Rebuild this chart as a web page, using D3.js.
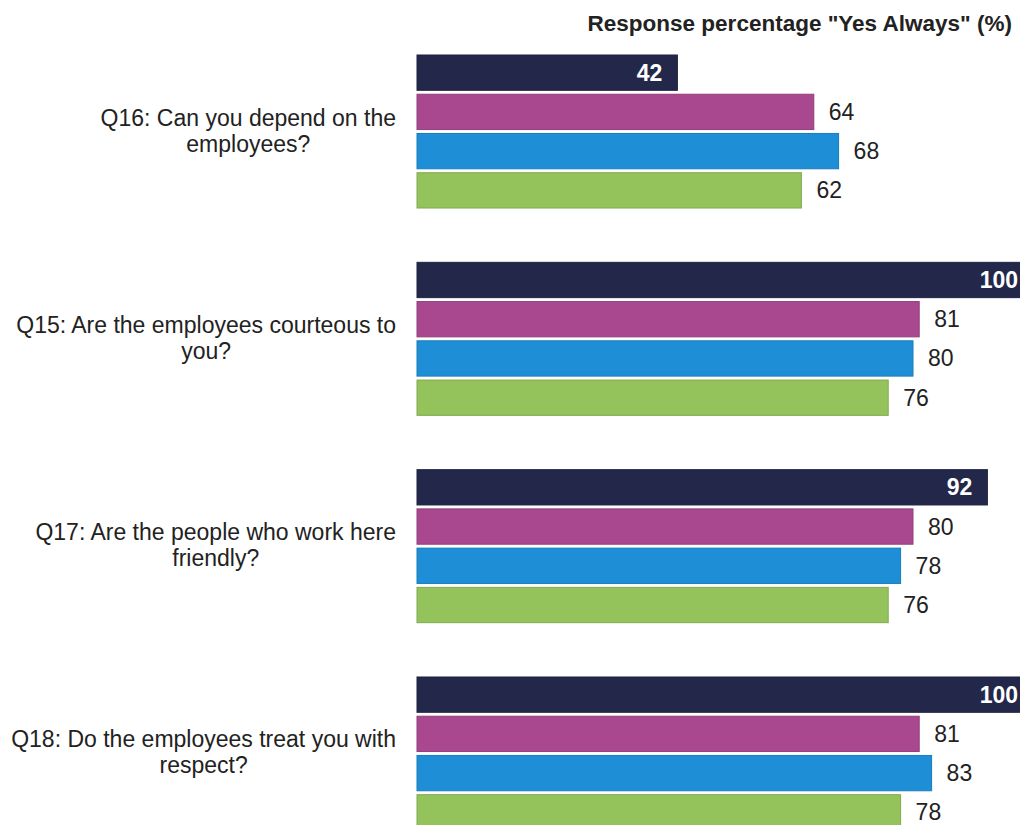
<!DOCTYPE html>
<html>
<head>
<meta charset="utf-8">
<script src="https://cdn.jsdelivr.net/npm/d3@7"></script>
<style>
  html, body { margin: 0; padding: 0; background: #fff; overflow: hidden; }
  svg { display: block; }
  svg text { font-family: Arial, "Liberation Sans", Helvetica, sans-serif; }
</style>
</head>
<body>
<svg id="chart" width="1020" height="825"></svg>
<script>
// Survey questions (top to bottom) and their wrapped label lines
const questions = ["Q16", "Q15", "Q17", "Q18"];
const questionLines = [
  ["Q16: Can you depend on the", "employees?"],
  ["Q15: Are the employees courteous to", "you?"],
  ["Q17: Are the people who work here", "friendly?"],
  ["Q18: Do the employees treat you with", "respect?"]
];
// Four comparison series, one bar each per question
const seriesNames = ["s1", "s2", "s3", "s4"];
const seriesColors = ["#23284a", "#a9488f", "#1e8fd6", "#94c35c"];
const s1Values = [42, 100, 92, 100];
const s2Values = [64, 81, 80, 81];
const s3Values = [68, 80, 78, 83];
const s4Values = [62, 76, 76, 78];
const titleText = 'Response percentage "Yes Always" (%)';

const allValues = [s1Values, s2Values, s3Values, s4Values];
const rows = [];
questions.forEach((q, qi) => {
  seriesNames.forEach((s, si) => {
    rows.push({ q, s, si, value: allValues[si][qi] });
  });
});

const W = 1020;
const labelRight = 396;
const svg = d3.select("#chart");

const x = d3.scaleLinear().domain([0, 100]).range([417, 1037]);
const yGroup = d3.scaleBand().domain(questions).range([55, 830])
  .paddingInner(0.262).paddingOuter(0).align(0);
const yBar = d3.scaleBand().domain(seriesNames).range([0, yGroup.bandwidth()])
  .paddingInner(0.1).paddingOuter(0);

// Title
svg.append("text")
  .attr("x", 1012).attr("y", 31)
  .attr("text-anchor", "end")
  .attr("font-size", 22.5).attr("font-weight", "bold")
  .attr("fill", "#222")
  .text(titleText);

// Question labels: centred lines, block right-aligned to the bar area
const qGroups = svg.append("g").selectAll("text")
  .data(questions).join("text")
  .attr("text-anchor", "middle")
  .attr("font-size", 23)
  .attr("fill", "#222");
qGroups.each(function(q, i) {
  const cy = yGroup(q) + yGroup.bandwidth() / 2;
  const lines = questionLines[i];
  const lh = 26;
  const tspans = d3.select(this).selectAll("tspan").data(lines).join("tspan")
    .attr("y", (d, j) => cy + (j - (lines.length - 1) / 2) * lh + 7)
    .text(d => d);
  const widest = d3.max(tspans.nodes(), n => n.getComputedTextLength());
  tspans.attr("x", labelRight - widest / 2);
});

// Bars
svg.append("g").selectAll("rect")
  .data(rows).join("rect")
  .attr("x", x(0))
  .attr("y", d => yGroup(d.q) + yBar(d.s))
  .attr("width", d => x(d.value) - x(0))
  .attr("height", yBar.bandwidth())
  .attr("fill", d => seriesColors[d.si])
  .attr("stroke", d => d3.color(seriesColors[d.si]).darker(0.4))
  .attr("stroke-width", 1);

// Value labels: inside (white, bold) for the first series, outside for the rest
svg.append("g").selectAll("text")
  .data(rows).join("text")
  .attr("x", d => d.si === 0 ? Math.min(x(d.value) - 15, W - 2) : x(d.value) + 15)
  .attr("y", d => yGroup(d.q) + yBar(d.s) + yBar.bandwidth() / 2 + 8)
  .attr("text-anchor", d => d.si === 0 ? "end" : "start")
  .attr("font-size", 23)
  .attr("font-weight", d => d.si === 0 ? "bold" : "normal")
  .attr("fill", d => d.si === 0 ? "#fff" : "#222")
  .text(d => d.value);
</script>
</body>
</html>
